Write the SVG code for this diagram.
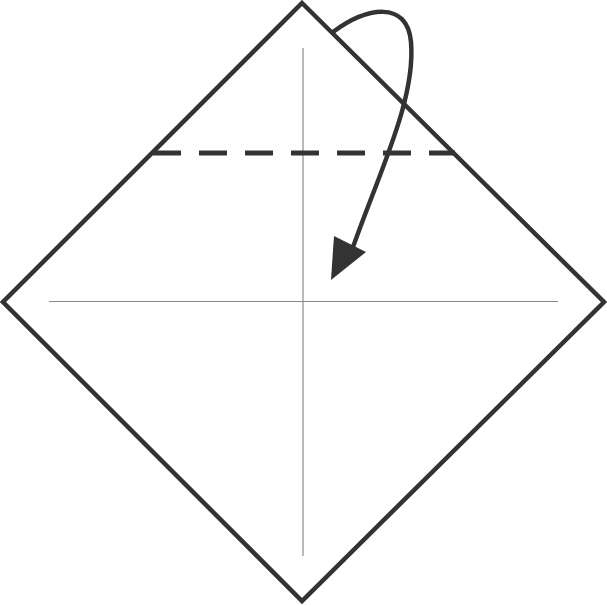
<svg xmlns="http://www.w3.org/2000/svg" width="607" height="605" viewBox="0 0 607 605">
  <style>
    .edge { fill: #ffffff; stroke: #333333; stroke-width: 4.5; stroke-linejoin: miter; }
    .crease { stroke: #8a8a8a; stroke-width: 1.2; fill: none; }
    .valley { stroke: #333333; stroke-width: 5; stroke-dasharray: 28 18; fill: none; }
    .arrow { stroke: #333333; stroke-width: 4.5; fill: none; stroke-linecap: butt; }
    .head { fill: #333333; stroke: none; }
  </style>
  <rect x="0" y="0" width="607" height="605" fill="#ffffff"/>
  <polygon class="edge" points="302,3 604,302 302,601 3,302"/>
  <line class="crease" x1="49" y1="301.5" x2="558" y2="301.5"/>
  <line class="crease" x1="303" y1="48" x2="303" y2="556"/>
  <line class="valley" x1="153" y1="153" x2="455" y2="153"/>
  <path class="arrow" d="M 333 32 C 367 7, 407 0, 411 42 C 416 100, 378 175, 352 250"/>
  <polygon class="head" points="331,280 334,236 366,252"/>
</svg>
